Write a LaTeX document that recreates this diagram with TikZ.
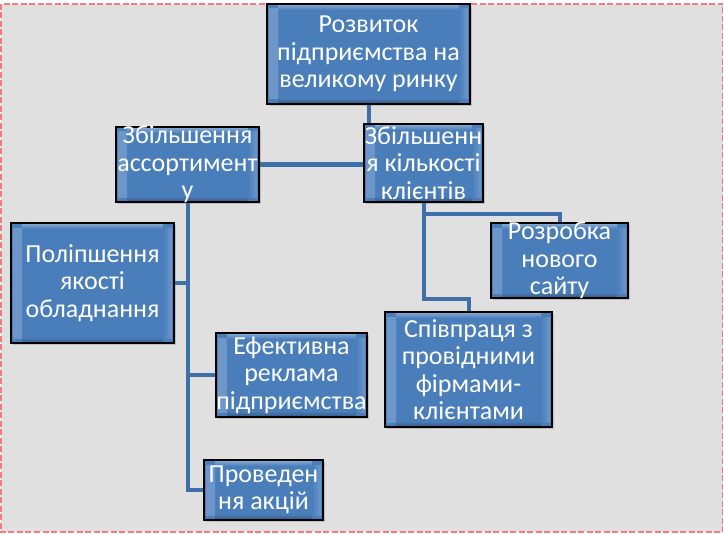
\documentclass[tikz,border=0pt]{standalone}
\usepackage{fontspec}
\setmainfont{Carlito}
\usetikzlibrary{calc,shadows}
\definecolor{bggray}{HTML}{E0E0E0}
\definecolor{framered}{HTML}{F07C80}
\definecolor{boxblue}{HTML}{4A7EBB}
\definecolor{linkblue}{HTML}{3F6FA8}
\newcommand\boxfont{\fontsize{26}{27.4}\selectfont}
\tikzset{
  bevelbox/.style={draw=black, line width=1.2pt, fill=boxblue, inner sep=0pt,
    drop shadow={shadow xshift=2pt, shadow yshift=-2pt, opacity=0.35},
    path picture={
      \shade[left color=boxblue!80!white, middle color=white!80!boxblue, right color=boxblue]
        ($(path picture bounding box.north west)+(2pt,-5pt)$) rectangle
        ($(path picture bounding box.south west)+(11pt,5pt)$);
      \shade[left color=boxblue, middle color=white!80!boxblue, right color=boxblue!80!white]
        ($(path picture bounding box.north east)+(-11pt,-5pt)$) rectangle
        ($(path picture bounding box.south east)+(-2pt,5pt)$);
      \shade[top color=white!30!boxblue, bottom color=boxblue]
        ($(path picture bounding box.north west)+(11pt,-1pt)$) rectangle
        ($(path picture bounding box.north east)+(-11pt,-6pt)$);
      \shade[top color=boxblue, bottom color=black!25!boxblue]
        ($(path picture bounding box.south west)+(11pt,6pt)$) rectangle
        ($(path picture bounding box.south east)+(-11pt,1pt)$);
    }},
  boxtext/.style={text=white, align=center, font=\boxfont, inner sep=0pt},
  link/.style={draw=linkblue, line width=4pt}
}
\begin{document}
\begin{tikzpicture}[x=1pt,y=-1pt]
  \useasboundingbox (0,0) rectangle (724,535);
  \fill[bggray] (1,4) rectangle (722.5,532);
  \draw[framered, line width=1.5pt, dash pattern=on 6pt off 2.5pt] (1,4) rectangle (722.5,532);
  % boxes
  \node[bevelbox, minimum width=203pt, minimum height=100pt] (top) at (368.5,54) {};
  \node[bevelbox, minimum width=143pt, minimum height=75pt] (acc) at (187.5,164.5) {};
  \node[bevelbox, minimum width=119pt, minimum height=78pt] (cli) at (423.5,163) {};
  \node[bevelbox, minimum width=163pt, minimum height=120pt] (qual) at (92.5,283) {};
  \node[bevelbox, minimum width=151pt, minimum height=84pt] (adv) at (291.5,375) {};
  \node[bevelbox, minimum width=119pt, minimum height=60pt] (promo) at (263.5,490) {};
  \node[bevelbox, minimum width=137pt, minimum height=75pt] (site) at (559.5,260.5) {};
  \node[bevelbox, minimum width=167pt, minimum height=115pt] (coop) at (468.5,369.5) {};
  % connectors
  \draw[link] (top.south) -- (top.south |- cli.north);
  \draw[link] (acc.east) -- (acc.east -| cli.west);
  \draw[link] (acc.south) |- (promo.west);
  \draw[link] (acc.south |- qual.east) -- (qual.east);
  \draw[link] (acc.south |- adv.west) -- (adv.west);
  \draw[link] (cli.south) |- ($(coop.north)+(0,-12)$) -| (coop.north);
  \draw[link] ($(cli.south)+(0,11)$) -| (site.north);
  % texts
  \node[boxtext] (top-t) at (top) {Розвиток\\підприємства на\\великому ринку};
  \node[boxtext] (acc-t) at (acc) {Збільшення\\ассортимент\\у};
  \node[boxtext] (cli-t) at (cli) {Збільшенн\\я кількості\\клієнтів};
  \node[boxtext] (qual-t) at (qual) {Поліпшення\\якості\\обладнання};
  \node[boxtext] (adv-t) at (adv) {Ефективна\\реклама\\підприємства};
  \node[boxtext] (promo-t) at (promo) {Проведен\\ня акцій};
  \node[boxtext] (site-t) at (site) {Розробка\\нового\\сайту};
  \node[boxtext] (coop-t) at (coop) {Співпраця з\\провідними\\фірмами-\\клієнтами};
\end{tikzpicture}
\end{document}
